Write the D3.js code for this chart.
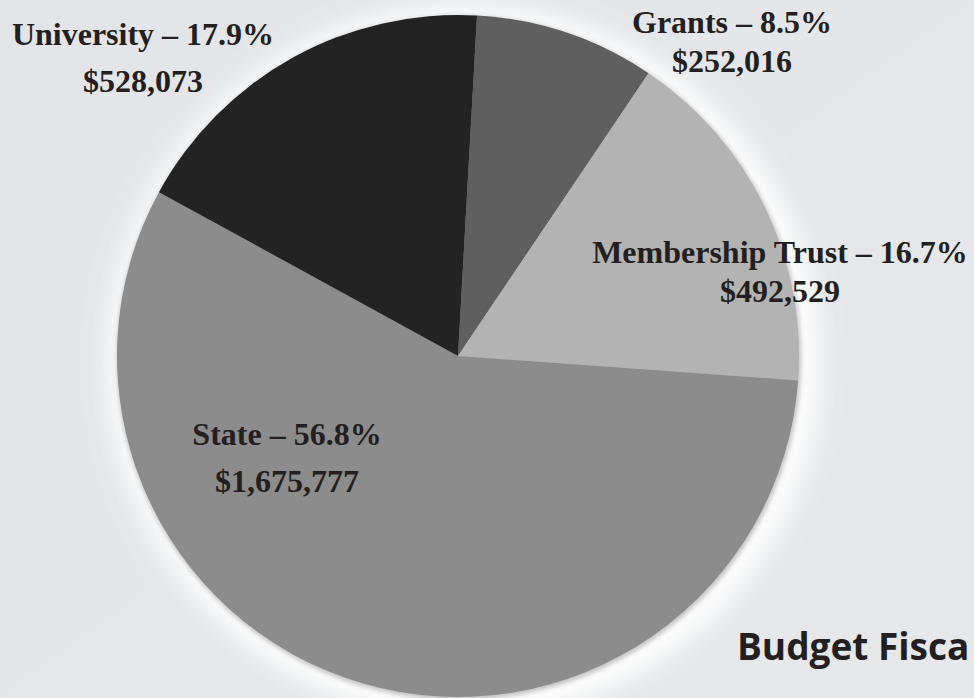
<!DOCTYPE html>
<html>
<head>
<meta charset="utf-8">
<script src="https://cdn.jsdelivr.net/npm/d3@7"></script>
<style>
  html, body { margin: 0; padding: 0; overflow: hidden; background: #e4e6e9; }
  svg { display: block; }
</style>
</head>
<body>
<svg></svg>
<script>
// budget sources, clockwise from just right of 12 o'clock
const categories = ["Grants", "Membership Trust", "State", "University"];
const amounts = [252016, 492529, 1675777, 528073];
const percents = ["8.5%", "16.7%", "56.8%", "17.9%"];
const colors = ["#5f5f5f", "#b3b3b3", "#8c8c8c", "#232323"];

const width = 974, height = 698;
const cx = 458, cy = 356, radius = 341;

// where each label sits (centre of text block, first baseline)
const labelAt = {
    "Grants": [732, 33],
    "Membership Trust": [780, 263],
    "State": [287, 445],
    "University": [143, 45]
};

const svg = d3.select("svg")
    .attr("width", width)
    .attr("height", height);

const defs = svg.append("defs");

const bg = defs.append("linearGradient").attr("id", "bg")
    .attr("x1", 0).attr("y1", 0).attr("x2", 1).attr("y2", 1);
bg.append("stop").attr("offset", 0).attr("stop-color", "#e3e5e8");
bg.append("stop").attr("offset", 1).attr("stop-color", "#e6e8ea");

defs.append("filter").attr("id", "glow")
    .attr("x", "-20%").attr("y", "-20%").attr("width", "140%").attr("height", "140%")
    .append("feGaussianBlur").attr("stdDeviation", 12);

defs.append("filter").attr("id", "edge")
    .attr("x", "-10%").attr("y", "-10%").attr("width", "120%").attr("height", "120%")
    .append("feGaussianBlur").attr("stdDeviation", 2.5);

svg.append("rect")
    .attr("width", width)
    .attr("height", height)
    .attr("fill", "url(#bg)");

const g = svg.append("g").attr("transform", `translate(${cx},${cy})`);

// soft light halo and thin shadow round the pie
g.append("circle")
    .attr("r", radius + 16)
    .attr("cx", 6).attr("cy", 6)
    .attr("fill", "#ffffff")
    .attr("opacity", 0.95)
    .attr("filter", "url(#glow)");

g.append("circle")
    .attr("r", radius + 1)
    .attr("cx", 1).attr("cy", 2)
    .attr("fill", "#777")
    .attr("opacity", 0.45)
    .attr("filter", "url(#edge)");

const pie = d3.pie()
    .sort(null)
    .value(d => d)
    .startAngle(3.2 * Math.PI / 180)
    .endAngle(3.2 * Math.PI / 180 + 2 * Math.PI);

const arc = d3.arc().innerRadius(0).outerRadius(radius);

g.selectAll("path.slice")
    .data(pie(amounts))
    .enter().append("path")
    .attr("class", "slice")
    .attr("d", arc)
    .attr("fill", (d, i) => colors[i]);

const fmt = d3.format("$,");

const labels = svg.selectAll("text.lbl")
    .data(categories)
    .enter().append("text")
    .attr("class", "lbl")
    .attr("text-anchor", "middle")
    .attr("font-family", "'Liberation Serif', 'DejaVu Serif', serif")
    .attr("font-weight", "bold")
    .attr("font-size", 32)
    .attr("fill", "#231f20");

labels.append("tspan")
    .attr("x", d => labelAt[d][0])
    .attr("y", d => labelAt[d][1])
    .text((d, i) => `${d} – ${percents[i]}`);

labels.append("tspan")
    .attr("x", d => labelAt[d][0])
    .attr("y", (d, i) => labelAt[d][1] + (d === "University" || d === "State" ? 47 : 39))
    .text((d, i) => fmt(amounts[i]));

// title runs off the right edge in the reference; only this part is visible
svg.append("text")
    .attr("x", 737)
    .attr("y", 660)
    .attr("font-family", "'Open Sans', 'Noto Sans', sans-serif")
    .attr("font-weight", "bold")
    .attr("font-size", 37)
    .attr("fill", "#231f20")
    .text("Budget Fisca");
</script>
</body>
</html>
